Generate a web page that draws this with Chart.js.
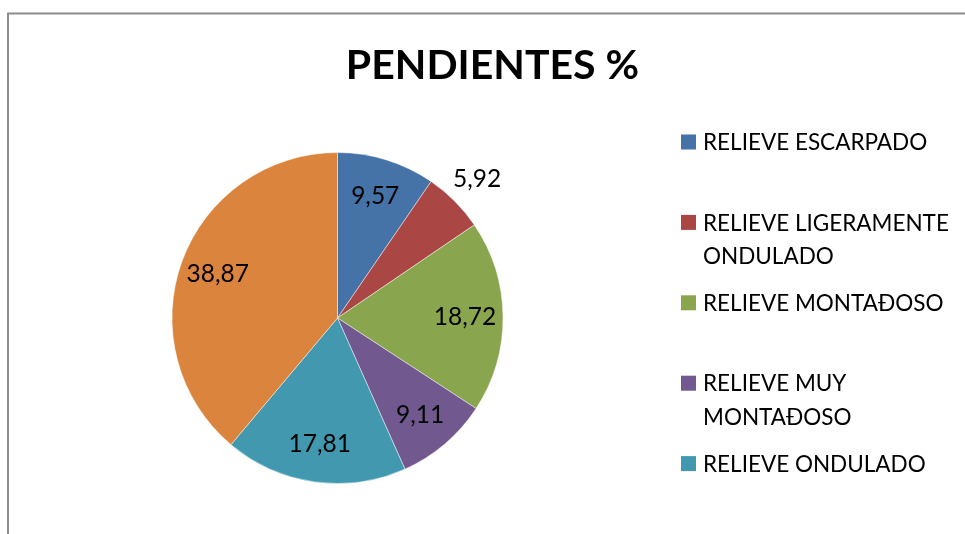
<!DOCTYPE html>
<html>
<head>
<meta charset="utf-8">
<script src="https://cdn.jsdelivr.net/npm/chart.js@4.4.1/dist/chart.umd.min.js"></script>
<style>
    html, body { margin: 0; padding: 0; background: #fff; }
    #wrap { position: relative; width: 965px; height: 534px; }
</style>
</head>
<body>
<div id="wrap"><canvas id="pieChart" width="965" height="534"></canvas></div>
<script>
const TITLE = 'PENDIENTES %';
const CATEGORIES = [
    'RELIEVE ESCARPADO',
    'RELIEVE LIGERAMENTE ONDULADO',
    'RELIEVE MONTAĐOSO',
    'RELIEVE MUY MONTAĐOSO',
    'RELIEVE ONDULADO',
    '',
];
const VALUES = [9.57, 5.92, 18.72, 9.11, 17.81, 38.87];
const COLORS = ['#4572A7', '#AA4643', '#89A54E', '#71588F', '#4198AF', '#DB843D'];

const FONT = 'Lato';
const LEGEND = { boxX: 681, textX: 703, top: 142, step: 80.4, lineH: 33.5, box: 15, maxW: 258, size: 22.5 };

const fmt = v => v.toFixed(2).replace('.', ',');

function wrapText(ctx, text, maxW) {
    const words = text.split(' ');
    const lines = [];
    let line = '';
    words.forEach(w => {
        const test = line ? line + ' ' + w : w;
        if (ctx.measureText(test).width > maxW && line) {
            lines.push(line);
            line = w;
        } else {
            line = test;
        }
    });
    if (line) lines.push(line);
    return lines;
}

// frame, title and legend drawn around the pie
const decor = {
    id: 'decor',
    afterDraw(chart) {
        const { ctx, width, height } = chart;
        ctx.save();

        // chart frame (cut off at right and bottom)
        ctx.strokeStyle = '#8c8c8c';
        ctx.lineWidth = 2;
        ctx.beginPath();
        ctx.moveTo(8, height);
        ctx.lineTo(8, 13.5);
        ctx.lineTo(width, 13.5);
        ctx.stroke();

        // title
        ctx.fillStyle = '#000';
        ctx.font = `bold 41px ${FONT}`;
        ctx.textAlign = 'center';
        ctx.textBaseline = 'alphabetic';
        ctx.fillText(TITLE, 492.5, 79);

        // legend
        ctx.font = `${LEGEND.size}px ${FONT}`;
        ctx.textAlign = 'left';
        ctx.textBaseline = 'middle';
        const bg = chart.data.datasets[0].backgroundColor;
        chart.data.labels.forEach((label, i) => {
            if (!label) return;
            const y = LEGEND.top + i * LEGEND.step;
            ctx.fillStyle = bg[i];
            ctx.fillRect(LEGEND.boxX, y - LEGEND.box / 2, LEGEND.box, LEGEND.box);
            ctx.fillStyle = '#000';
            wrapText(ctx, label, LEGEND.maxW).forEach((ln, j) => {
                ctx.fillText(ln, LEGEND.textX, y + j * LEGEND.lineH + 1);
            });
        });
        ctx.restore();
    },
};

// value labels on the slices
const sliceLabels = {
    id: 'sliceLabels',
    afterDatasetsDraw(chart) {
        const { ctx } = chart;
        const meta = chart.getDatasetMeta(0);
        const data = chart.data.datasets[0].data;
        ctx.save();
        ctx.font = `24.5px ${FONT}`;
        ctx.fillStyle = '#000';
        ctx.textAlign = 'center';
        ctx.textBaseline = 'middle';
        meta.data.forEach((arc, i) => {
            const { x, y, startAngle, endAngle, outerRadius } = arc.getProps(['x', 'y', 'startAngle', 'endAngle', 'outerRadius'], true);
            const mid = (startAngle + endAngle) / 2;
            const f = data[i] < 7 ? 1.19 : 0.77;
            ctx.fillText(fmt(data[i]), x + Math.cos(mid) * outerRadius * f, y + Math.sin(mid) * outerRadius * f);
        });
        ctx.restore();
    },
};

new Chart(document.getElementById('pieChart'), {
    type: 'pie',
    data: {
        labels: CATEGORIES,
        datasets: [{
            data: VALUES,
            backgroundColor: COLORS,
            borderColor: 'rgba(255,255,255,0.45)',
            borderWidth: 1,
            hoverOffset: 0,
        }],
    },
    options: {
        responsive: false,
        animation: false,
        devicePixelRatio: 1,
        events: [],
        layout: { padding: { left: 171.5, right: 461.5, top: 152, bottom: 50 } },
        plugins: {
            legend: { display: false },
            title: { display: false },
            tooltip: { enabled: false },
        },
    },
    plugins: [decor, sliceLabels],
});
</script>
</body>
</html>
